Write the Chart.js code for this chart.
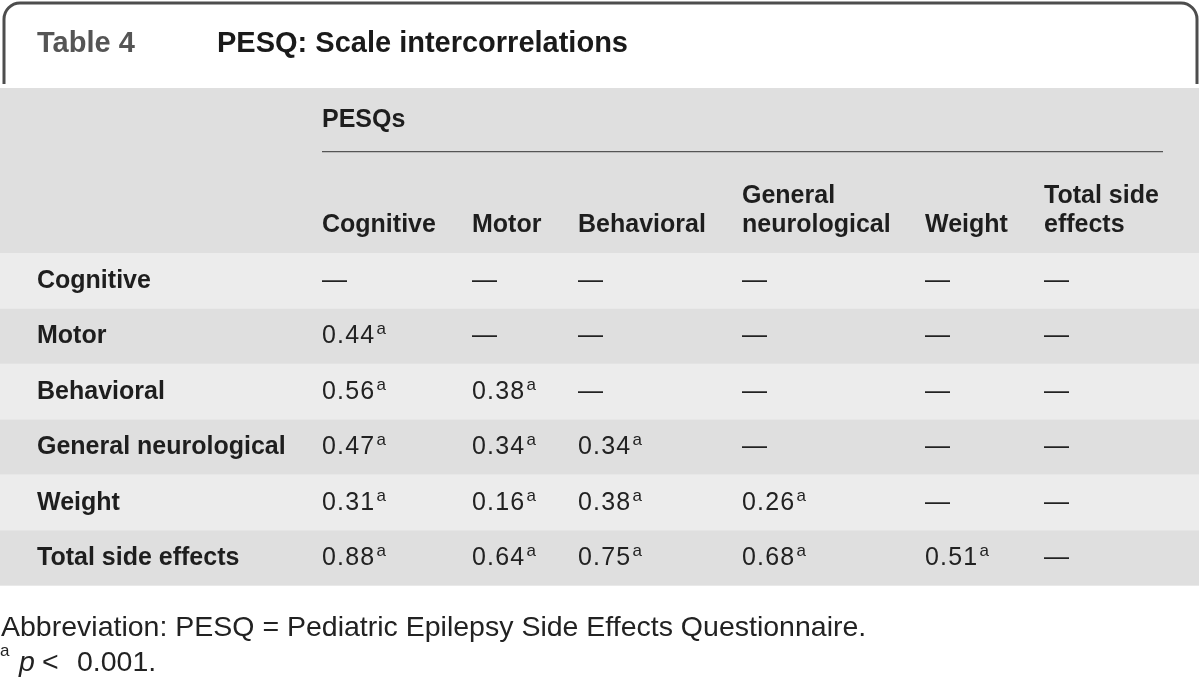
<!DOCTYPE html>
<html>
<head>
<meta charset="utf-8">
<script src="https://cdn.jsdelivr.net/npm/chart.js@4.4.1/dist/chart.umd.min.js"></script>
<style>
  html, body { margin: 0; padding: 0; background: #fff; }
  #wrap { width: 1200px; height: 683px; position: relative; }
</style>
</head>
<body>
<div id="wrap"><canvas id="myChart"></canvas></div>
<script>
// table data
var rowLabels = ["Cognitive", "Motor", "Behavioral", "General neurological", "Weight", "Total side effects"];
var colLabels = [["Cognitive"], ["Motor"], ["Behavioral"], ["General", "neurological"], ["Weight"], ["Total side", "effects"]];
var cognitive = [null, 0.44, 0.56, 0.47, 0.31, 0.88];
var motor = [null, null, 0.38, 0.34, 0.16, 0.64];
var behavioral = [null, null, null, 0.34, 0.38, 0.75];
var generalNeuro = [null, null, null, null, 0.26, 0.68];
var weight = [null, null, null, null, null, 0.51];
var totalSide = [null, null, null, null, null, null];
var sigMark = "a";

var title = "PESQ: Scale intercorrelations";
var tableNo = "Table 4";
var groupLabel = "PESQs";
var footnote = "Abbreviation: PESQ = Pediatric Epilepsy Side Effects Questionnaire.";

// layout: left edge of each column, in x-scale units (= pixels)
var colLeft = [322, 472, 578, 742, 925, 1044];
var columns = [cognitive, motor, behavioral, generalNeuro, weight, totalSide];

var FONT = '"Liberation Sans", Arial, sans-serif';

var datasets = columns.map(function (col, j) {
  return {
    label: colLabels[j].join(" "),
    data: col.map(function (v, i) { return { x: colLeft[j], y: i, v: v }; }),
    pointRadius: 0,
    pointHoverRadius: 0,
  };
});

var tablePlugin = {
  id: "tablePlugin",
  beforeDraw: function (chart) {
    var ctx = chart.ctx;
    var y = chart.scales.y;
    ctx.save();
    ctx.fillStyle = "#fff";
    ctx.fillRect(0, 0, chart.width, chart.height);

    // header band
    ctx.fillStyle = "#dfdfdf";
    ctx.fillRect(0, 88, 1199, y.getPixelForValue(-0.5) - 88);

    // row stripes
    rowLabels.forEach(function (r, i) {
      var top = y.getPixelForValue(i - 0.5);
      var bot = y.getPixelForValue(i + 0.5);
      ctx.fillStyle = i % 2 === 0 ? "#ececec" : "#dfdfdf";
      ctx.fillRect(0, top, 1199, bot - top);
    });

    // frame round the title
    var r = 16;
    ctx.strokeStyle = "#4d4d4d";
    ctx.lineWidth = 3;
    ctx.beginPath();
    ctx.moveTo(4, 84);
    ctx.lineTo(4, 3 + r);
    ctx.arcTo(4, 3, 4 + r, 3, r);
    ctx.lineTo(1197 - r, 3);
    ctx.arcTo(1197, 3, 1197, 3 + r, r);
    ctx.lineTo(1197, 84);
    ctx.stroke();

    // title
    ctx.textBaseline = "alphabetic";
    ctx.textAlign = "left";
    ctx.font = "bold 29px " + FONT;
    ctx.fillStyle = "#555";
    ctx.fillText(tableNo, 37, 52);
    ctx.fillStyle = "#1a1a1a";
    ctx.fillText(title, 217, 52);

    // group header + rule
    ctx.font = "bold 25px " + FONT;
    ctx.fillStyle = "#1e1e1e";
    ctx.fillText(groupLabel, 322, 127);
    ctx.strokeStyle = "#555";
    ctx.lineWidth = 1.3;
    ctx.beginPath();
    ctx.moveTo(322, 151.7);
    ctx.lineTo(1163, 151.7);
    ctx.stroke();

    // column headers
    colLabels.forEach(function (lines, j) {
      var base = 232 - (lines.length - 1) * 29;
      lines.forEach(function (t, k) {
        ctx.fillText(t, colLeft[j], base + k * 29);
      });
    });

    // row labels
    rowLabels.forEach(function (t, i) {
      ctx.fillText(t, 37, y.getPixelForValue(i) + 7.3);
    });

    // footnotes
    ctx.fillStyle = "#222";
    ctx.font = "28.5px " + FONT;
    ctx.fillText(footnote, 1, 636);
    ctx.font = "17px " + FONT;
    ctx.fillText(sigMark, 0, 656);
    ctx.font = "italic 28.5px " + FONT;
    ctx.fillText("p", 19, 671);
    ctx.font = "28.5px " + FONT;
    ctx.fillText("<", 42, 671);
    ctx.fillText("0.001.", 77, 671);
    ctx.restore();
  },
  afterDatasetsDraw: function (chart) {
    var ctx = chart.ctx;
    ctx.save();
    ctx.textAlign = "left";
    ctx.textBaseline = "alphabetic";
    ctx.fillStyle = "#222";
    chart.data.datasets.forEach(function (ds, j) {
      var meta = chart.getDatasetMeta(j);
      meta.data.forEach(function (el, i) {
        var v = ds.data[i].v;
        var bx = el.x;
        var by = el.y + 7.3;
        ctx.font = "25px " + FONT;
        if (v === null) {
          ctx.letterSpacing = "0px";
          ctx.fillText("\u2014", bx, by);
        } else {
          var s = v.toFixed(2);
          ctx.letterSpacing = "1.2px";
          ctx.fillText(s, bx, by);
          var w = ctx.measureText(s).width;
          ctx.letterSpacing = "0px";
          ctx.font = "17px " + FONT;
          ctx.fillText(sigMark, bx + w + 1, by - 9);
        }
      });
    });
    ctx.restore();
  },
};

var ctx = document.getElementById("myChart");
new Chart(ctx, {
  type: "scatter",
  data: { datasets: datasets },
  options: {
    responsive: true,
    maintainAspectRatio: false,
    animation: false,
    events: [],
    layout: { padding: 0 },
    plugins: {
      legend: { display: false },
      tooltip: { enabled: false },
    },
    scales: {
      x: { type: "linear", display: false, min: 0, max: 1200 },
      y: { type: "linear", display: false, reverse: true, min: -5.062, max: 7.255 },
    },
  },
  plugins: [tablePlugin],
});
</script>
</body>
</html>
